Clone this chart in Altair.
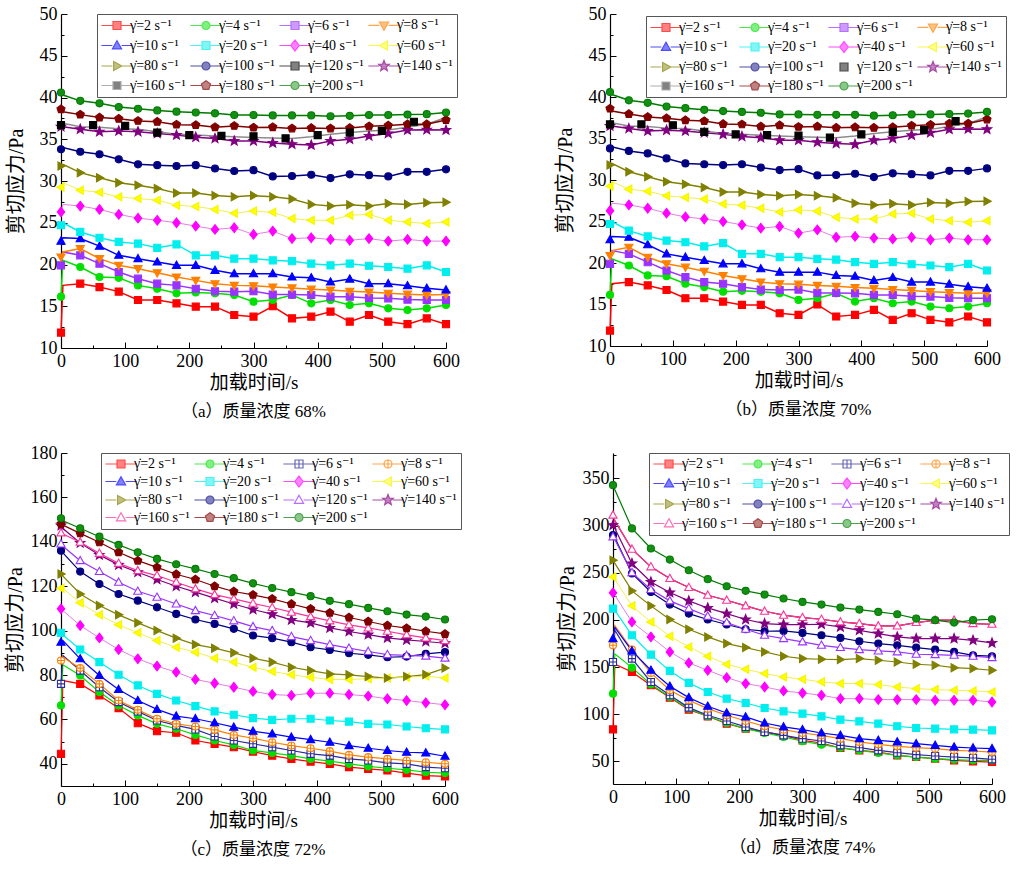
import math
import altair as alt
import pandas as pd

# ---------------- data ----------------
T = [0, 3] + list(range(30, 601, 30))          # time points of every series, s
T50 = list(range(0, 551, 50))                  # marker times of the 120 s^-1 series in (a),(b)
RATES = [2, 4, 6, 8, 10, 20, 40, 60, 80, 100, 120, 140, 160, 180, 200]
LABELS = [f"\u03b3\u0307={r} s\u207b\u00b9" for r in RATES]

# panel (a) 68 %  (panel (b) 70 % shows the same curves)
A2 = [11.85, 17.5, 17.7, 17.3, 16.75, 15.75, 15.75, 15.35, 14.95, 14.95, 13.95, 13.75, 15.0, 13.55, 13.75, 14.35, 13.15, 13.95, 13.15, 12.85, 13.55, 12.85]
A4 = [16.15, 20.5, 19.7, 18.5, 18.4, 17.5, 17.1, 16.55, 16.65, 16.55, 16.35, 15.55, 15.75, 16.35, 15.35, 15.75, 15.15, 15.35, 14.75, 14.55, 14.75, 15.15]
A6 = [19.9, 21.5, 21.1, 20.1, 19.1, 18.3, 17.7, 17.5, 17.1, 16.8, 16.75, 16.8, 16.4, 16.4, 16.35, 16.15, 16.15, 16.0, 15.95, 15.8, 15.75, 15.75]
A8 = [20.9, 21.5, 21.9, 20.7, 19.9, 19.5, 19.0, 18.5, 18.1, 17.7, 17.5, 17.45, 17.3, 17.2, 17.05, 16.95, 16.8, 16.7, 16.55, 16.45, 16.35, 16.4]
A10 = [22.8, 23.2, 23.1, 22.2, 21.1, 20.7, 20.3, 19.9, 19.9, 19.3, 18.9, 18.9, 18.9, 18.5, 18.4, 17.9, 18.25, 17.7, 17.7, 17.45, 17.15, 16.95]
A20 = [24.7, 25.0, 23.9, 23.2, 22.7, 22.5, 22.0, 22.4, 21.1, 21.1, 20.7, 20.7, 20.5, 20.4, 20.1, 19.9, 20.1, 19.85, 19.7, 19.5, 19.9, 19.1]
A40 = [26.3, 27.2, 27.0, 26.6, 26.0, 25.55, 25.3, 25.0, 24.6, 24.2, 24.4, 23.6, 24.0, 23.1, 23.2, 23.0, 22.9, 23.1, 22.8, 23.0, 22.8, 22.8]
A60 = [29.25, 29.8, 28.9, 28.65, 28.1, 27.9, 27.7, 27.1, 26.95, 26.6, 26.15, 26.4, 26.25, 25.5, 25.3, 25.3, 25.9, 26.0, 25.3, 25.1, 24.9, 25.1]
A80 = [31.8, 32.0, 31.0, 30.4, 29.8, 29.5, 29.1, 28.55, 28.55, 28.25, 28.1, 28.25, 28.1, 27.85, 27.2, 27.0, 27.15, 27.0, 27.3, 27.2, 27.4, 27.45]
A100 = [33.8, 34.0, 33.5, 33.2, 32.6, 32.0, 31.9, 31.8, 31.9, 31.5, 31.2, 31.3, 30.55, 30.6, 30.75, 30.35, 30.8, 30.7, 30.55, 31.1, 31.1, 31.4]
A120 = [36.7, 36.7, 36.6, 35.8, 35.5, 35.4, 35.35, 35.1, 35.5, 35.8, 36.0, 37.1]   # at T50, markers only
A140 = [36.5, 36.5, 36.2, 35.9, 36.0, 35.9, 35.7, 35.5, 35.25, 35.1, 34.8, 34.8, 34.55, 34.4, 34.3, 34.8, 35.0, 35.4, 35.7, 36.1, 36.15, 36.1]
A160 = [36.8, 36.9, 36.5, 36.45, 36.25, 36.2, 35.9, 35.6, 35.5, 35.4, 35.3, 35.2, 35.15, 35.1, 35.3, 35.6, 35.8, 36.0, 36.1, 36.45, 36.8, 37.6]
A180 = [38.6, 38.3, 37.95, 37.6, 37.45, 37.2, 37.1, 36.75, 36.7, 36.45, 36.6, 36.4, 36.45, 36.3, 36.35, 36.3, 36.35, 36.55, 36.65, 36.8, 36.8, 37.3]
A200 = [40.6, 40.3, 39.6, 39.3, 38.85, 38.65, 38.45, 38.3, 38.2, 38.1, 37.9, 37.9, 37.85, 37.85, 37.85, 37.75, 37.8, 37.9, 37.9, 37.95, 38.0, 38.2]

# panel (c) 72 %
C2 = [44.5, 77.5, 76.0, 70.8, 65.1, 58.3, 54.7, 54.0, 50.5, 49.0, 47.5, 45.5, 43.7, 42.2, 41.0, 40.0, 38.5, 37.7, 37.0, 35.8, 34.7, 34.3]
C4 = [66.3, 84.6, 79.8, 72.3, 66.3, 61.8, 58.0, 55.8, 53.0, 50.5, 48.5, 46.0, 44.9, 43.7, 42.2, 41.2, 40.0, 38.8, 38.0, 37.3, 36.2, 35.8]
C6 = [76.0, 88.8, 82.0, 74.5, 67.8, 63.6, 59.5, 57.3, 55.5, 52.3, 50.5, 49.0, 47.5, 46.0, 44.5, 43.7, 42.2, 41.5, 40.4, 40.0, 38.5, 38.0]
C8 = [86.5, 88.0, 83.1, 76.0, 68.5, 64.3, 60.3, 58.0, 56.8, 55.3, 53.0, 51.5, 49.7, 48.2, 47.0, 45.7, 44.0, 43.0, 42.2, 41.5, 40.7, 40.0]
C10 = [94.8, 95.5, 87.3, 79.8, 73.5, 68.5, 64.5, 61.5, 60.3, 58.5, 56.5, 54.7, 53.5, 52.0, 50.9, 49.7, 48.2, 47.0, 46.0, 45.2, 44.9, 43.4]
C20 = [99.0, 98.0, 91.5, 85.8, 80.1, 75.3, 71.5, 68.5, 66.0, 63.6, 62.1, 60.6, 59.8, 60.3, 60.3, 59.5, 59.0, 58.0, 57.7, 56.8, 56.0, 55.5]
C40 = [109.8, 109.0, 102.3, 96.7, 91.5, 87.3, 84.0, 81.3, 78.0, 76.3, 74.5, 72.6, 71.2, 70.8, 71.8, 71.8, 71.2, 70.5, 69.3, 68.5, 67.5, 66.6]
C60 = [119.1, 119.0, 112.5, 107.1, 102.6, 99.0, 95.5, 92.5, 90.3, 87.6, 85.8, 83.5, 81.6, 80.1, 79.0, 78.0, 78.0, 78.3, 78.6, 79.0, 79.5, 78.6]
C80 = [125.5, 124.5, 116.5, 111.3, 107.1, 103.5, 100.0, 96.6, 93.7, 92.1, 90.0, 87.6, 85.8, 83.5, 82.0, 80.5, 80.1, 79.3, 78.6, 79.3, 80.2, 83.1]
C100 = [136.0, 135.0, 126.6, 121.0, 116.5, 113.5, 110.5, 107.5, 105.0, 103.0, 100.8, 97.8, 96.6, 94.8, 92.5, 91.3, 89.8, 89.1, 88.0, 88.3, 89.5, 90.3]
C120 = [139.0, 138.0, 131.5, 126.6, 121.8, 117.7, 115.0, 112.0, 109.0, 106.8, 104.4, 101.8, 100.0, 97.3, 95.5, 93.7, 92.1, 90.6, 89.2, 88.8, 88.5, 87.6]
C140 = [147.3, 146.0, 139.5, 134.1, 129.6, 126.3, 123.0, 120.0, 117.3, 114.6, 112.0, 109.5, 107.4, 104.8, 103.5, 101.2, 99.6, 98.2, 96.7, 95.8, 95.1, 94.3]
C160 = [144.0, 143.5, 139.8, 134.8, 130.3, 127.0, 124.8, 121.8, 118.8, 116.2, 114.3, 112.3, 110.4, 108.3, 106.3, 104.4, 102.6, 101.2, 99.7, 98.1, 96.7, 95.5]
C180 = [148.0, 147.5, 143.8, 139.8, 135.3, 131.5, 128.5, 125.4, 123.0, 120.0, 117.6, 116.1, 114.3, 112.0, 109.8, 108.0, 105.9, 104.1, 102.3, 101.1, 99.7, 98.5]
C200 = [150.6, 149.5, 146.1, 142.3, 138.6, 135.3, 132.3, 129.9, 127.8, 125.5, 123.6, 121.3, 119.2, 117.3, 115.5, 113.4, 111.9, 110.2, 108.7, 107.2, 106.3, 105.0]

# panel (d) 74 %
D2 = [84.0, 153.0, 144.8, 130.7, 117.6, 104.9, 97.8, 90.0, 84.7, 81.2, 77.6, 72.3, 69.5, 64.2, 61.7, 59.9, 56.4, 54.6, 52.9, 51.1, 50.0, 49.3]
D4 = [121.8, 164.0, 149.4, 131.7, 118.3, 105.9, 97.8, 90.7, 84.7, 80.1, 75.9, 71.3, 67.7, 64.5, 61.7, 58.9, 56.4, 54.6, 52.9, 51.8, 51.1, 51.1]
D6 = [155.4, 189.0, 159.0, 134.2, 120.1, 107.0, 98.9, 92.8, 86.5, 81.2, 77.6, 74.1, 71.6, 67.0, 64.5, 61.7, 59.2, 57.1, 55.7, 54.6, 53.6, 52.2]
D8 = [173.1, 194.0, 168.5, 143.8, 125.4, 114.8, 105.9, 98.9, 92.8, 87.2, 83.6, 80.1, 77.6, 74.1, 70.6, 68.1, 66.0, 64.5, 63.5, 61.7, 61.0, 59.9]
D10 = [180.2, 192.0, 167.1, 146.6, 129.6, 117.6, 108.4, 101.3, 97.1, 90.7, 86.5, 83.6, 80.1, 77.6, 74.1, 72.3, 70.6, 68.8, 67.0, 65.2, 64.2, 63.5]
D20 = [212.0, 210.0, 183.7, 163.2, 145.9, 133.2, 123.6, 116.5, 111.9, 106.6, 103.1, 100.6, 97.8, 94.2, 92.5, 90.0, 87.2, 85.4, 84.7, 84.0, 83.6, 82.9]
D40 = [228.7, 226.0, 197.9, 182.0, 166.1, 154.4, 146.6, 138.8, 132.5, 128.9, 124.7, 122.5, 120.1, 116.5, 116.5, 115.5, 115.5, 115.5, 114.8, 114.8, 114.8, 113.0]
D60 = [245.6, 243.0, 214.9, 197.9, 182.7, 171.4, 161.5, 153.0, 147.7, 143.1, 139.5, 137.1, 134.3, 132.5, 132.5, 131.4, 128.9, 127.1, 126.1, 125.4, 124.7, 123.6]
D80 = [263.3, 260.0, 230.8, 214.9, 200.4, 190.1, 182.0, 174.9, 170.7, 166.1, 161.5, 159.0, 158.3, 157.9, 159.0, 157.2, 155.4, 153.0, 151.9, 149.4, 148.4, 146.6]
D100 = [289.9, 287.0, 249.2, 229.7, 216.3, 206.7, 200.4, 195.1, 190.1, 188.0, 188.3, 186.2, 183.7, 180.9, 177.4, 174.9, 173.1, 170.7, 168.5, 166.1, 162.5, 161.5]
D120 = [288.1, 285.0, 250.2, 232.2, 220.2, 212.0, 203.9, 197.2, 190.1, 183.7, 180.2, 176.7, 173.1, 170.7, 168.5, 167.1, 166.1, 163.6, 163.2, 162.5, 161.5, 160.0]
D140 = [300.5, 297.0, 259.8, 240.3, 229.0, 220.2, 212.7, 206.7, 200.4, 196.1, 195.1, 195.1, 195.4, 192.6, 189.0, 185.5, 182.0, 180.2, 180.2, 180.2, 178.4, 175.6]
D160 = [311.1, 305.0, 275.0, 256.3, 243.9, 234.3, 226.2, 220.9, 214.9, 209.2, 205.0, 202.5, 200.7, 197.9, 196.1, 193.6, 193.6, 197.2, 199.7, 199.7, 196.1, 195.4]
D180 = [311.1, 305.0, 275.0, 256.3, 243.9, 234.3, 226.2, 220.9, 214.9, 209.2, 205.0, 202.5, 200.7, 197.9, 196.1, 193.6, 193.6, 197.2, 199.7, 199.7, 196.1, 195.4]
D200 = [342.9, 338.0, 297.0, 275.7, 264.0, 252.7, 243.2, 235.7, 230.8, 226.9, 222.7, 219.1, 216.3, 213.1, 211.0, 208.5, 206.0, 201.4, 199.7, 197.2, 199.7, 200.7]

A_SERIES = [A2, A4, A6, A8, A10, A20, A40, A60, A80, A100, None, A140, A160, A180, A200]
C_SERIES = [C2, C4, C6, C8, C10, C20, C40, C60, C80, C100, C120, C140, C160, C180, C200]
D_SERIES = [D2, D4, D6, D8, D10, D20, D40, D60, D80, D100, D120, D140, D160, D180, D200]

# ---------------- styling ----------------
NUMFONT = "Liberation Serif"
LEGFONT = "Liberation Serif, DejaVu Serif"
FONT = "Liberation Serif, Noto Sans CJK SC"


def poly(points):
    return "M" + "L".join(f"{x:.3f},{y:.3f}" for x, y in points) + "Z"


SQ = "M-1,-1L1,-1L1,1L-1,1Z"
CI = "M-1,0A1 1 0 1 1 1,0A1 1 0 1 1 -1,0Z"
CROSS = "M0,-1L0,1M-1,0L1,0"
TU = "M0,-1.2L1.15,0.85L-1.15,0.85Z"
TD = "M0,1.2L1.15,-0.85L-1.15,-0.85Z"
TL = "M-1.2,0L0.85,-1.15L0.85,1.15Z"
TR = "M1.2,0L-0.85,-1.15L-0.85,1.15Z"
DI = "M0,-1.35L1.05,0L0,1.35L-1.05,0Z"
STAR = poly([((1.4 if i % 2 == 0 else 0.6) * math.cos(-math.pi / 2 + i * math.pi / 5),
              (1.4 if i % 2 == 0 else 0.6) * math.sin(-math.pi / 2 + i * math.pi / 5)) for i in range(10)])
PENT = poly([(1.2 * math.cos(-math.pi / 2 + i * 2 * math.pi / 5),
              1.2 * math.sin(-math.pi / 2 + i * 2 * math.pi / 5)) for i in range(5)])
STEM = "M-3.9,0L-1.15,0M1.15,0L3.9,0"

SHAPES_AB = [SQ, CI, SQ, TD, TU, SQ, DI, TL, TR, CI, SQ, STAR, SQ, PENT, CI]
SHAPES_CD = [SQ, CI, SQ + CROSS, CI + CROSS, TU, SQ, DI, TL, TR, CI, TU, STAR, TU, PENT, CI]

STROKE_AB = ["#ff0000", "#00e000", "#9933ff", "#ff8000", "#0000ff", "#00eeee", "#ff00ff", "#f5f500",
             "#808000", "#000080", "#000000", "#800080", "#8c8c8c", "#800000", "#007a00"]
FILL_AB = ["#ff0000", "#00e000", "#9933ff", "#ff8000", "#0000ff", "#00eeee", "#ff00ff", "#ffff00",
           "#808000", "#000080", "#000000", "#800080", "#000000", "#800000", "#139013"]
LINE_AB = ["#ff0000", "#00e000", "#9933ff", "#ff8000", "#0000ff", "#00eeee", "#e070e0", "#f0ec3c",
           "#808000", "#000080", "#000000", "#800080", "#8c8c8c", "#800000", "#007a00"]

STROKE_CD = ["#ff0000", "#00e000", "#2b2b9c", "#ff8000", "#0000ff", "#00eeee", "#ff00ff", "#f5f500",
             "#808000", "#000080", "#9933ff", "#800080", "#ff3399", "#800000", "#007a00"]
FILL_CD = ["#ff0000", "#00e000", "#ffffff", "#ffffff", "#0000ff", "#00eeee", "#ff00ff", "#ffff00",
           "#808000", "#000080", "#ffffff", "#800080", "#ffffff", "#800000", "#139013"]
LINE_CD = ["#ff0000", "#00e000", "#2b2b9c", "#ff8000", "#0000ff", "#00eeee", "#e070e0", "#f0ec3c",
           "#808000", "#000080", "#9933ff", "#800080", "#ff3399", "#800000", "#007a00"]

THIN = [LABELS[6], LABELS[7]]   # 40 and 60 s^-1 drawn with thin lines


def frames(series, extra120=None, no_marker=()):
    lines, pts = [], []
    for lab, vals in zip(LABELS, series):
        if vals is None:
            continue
        for i, (t, v) in enumerate(zip(T, vals)):
            lines.append({"t": t, "v": v, "series": lab})
            if i != 1 and lab not in no_marker:
                pts.append({"t": t, "v": v, "series": lab})
    if extra120 is not None:
        for t, v in zip(T50, extra120):
            pts.append({"t": t, "v": v, "series": LABELS[10]})
    return pd.DataFrame(lines), pd.DataFrame(pts)


def sc(rng, **kw):
    return alt.Scale(domain=LABELS, range=rng, **kw)


def panel(series, shapes, strokes, fills, linecols, ydom, ymajor, yminor, caption,
          w, h, legx, legy, lw, legend_paths, rowpad, extra120=None, no_marker=(), under=()):
    ldf, pdf = frames(series, extra120, no_marker)
    xs = alt.Scale(domain=[0, 600], nice=False, zero=False)
    ys = alt.Scale(domain=ydom, nice=False, zero=False)

    main_x = alt.Axis(orient="bottom", values=list(range(0, 601, 100)), ticks=False, domainColor="black",
                      domainWidth=1.2, labelFont=NUMFONT, labelFontSize=18, labelColor="black",
                      labelPadding=4, labelFlush=False, labelOverlap=False, grid=False,
                      title="加载时间/s", titleFont=FONT, titleFontSize=19, titleFontWeight="normal",
                      titleColor="black", titlePadding=3)
    main_y = alt.Axis(orient="left", values=ymajor, ticks=False, domainColor="black", domainWidth=1.2,
                      labelFont=NUMFONT, labelFontSize=18, labelColor="black", labelPadding=4,
                      labelFlush=False, labelOverlap=False, grid=False, minExtent=30,
                      title="剪切应力/Pa", titleFont=FONT, titleFontSize=20, titleFontWeight="normal",
                      titleColor="black", titlePadding=5)

    def tick_axis(orient, values, size):
        return alt.Axis(orient=orient, values=values, ticks=True, tickSize=size, tickColor="black",
                        tickWidth=1, offset=-size, domain=False, labels=False, grid=False, title=None)

    top_set = [l for l in LABELS if l not in THIN and l not in under]
    layers = []
    if under:
        layers.append(alt.Chart(ldf).transform_filter(
            alt.FieldOneOfPredicate(field="series", oneOf=list(under))
        ).mark_line(strokeWidth=lw).encode(
            x=alt.X("t:Q", scale=xs, axis=None),
            y=alt.Y("v:Q", scale=ys, axis=None),
            stroke=alt.Stroke("series:N", scale=sc(linecols), legend=None),
        ))
    layers.append(alt.Chart(ldf).transform_filter(
        alt.FieldOneOfPredicate(field="series", oneOf=top_set)
    ).mark_line(strokeWidth=lw).encode(
        x=alt.X("t:Q", scale=xs, axis=main_x),
        y=alt.Y("v:Q", scale=ys, axis=main_y),
        stroke=alt.Stroke("series:N", scale=sc(linecols), legend=None),
    ))
    layers.append(alt.Chart(ldf).transform_filter(
        alt.FieldOneOfPredicate(field="series", oneOf=THIN)
    ).mark_line(strokeWidth=0.9).encode(
        x=alt.X("t:Q", scale=xs, axis=None),
        y=alt.Y("v:Q", scale=ys, axis=None),
        stroke=alt.Stroke("series:N", scale=sc(linecols), legend=None),
    ))
    layers.append(alt.Chart(pdf).mark_point(filled=True, size=50, strokeWidth=1.1, opacity=1).encode(
        x=alt.X("t:Q", scale=xs, axis=tick_axis("bottom", list(range(0, 601, 100)), 6)),
        y=alt.Y("v:Q", scale=ys, axis=tick_axis("left", ymajor, 6)),
        stroke=alt.Stroke("series:N", scale=sc(strokes), legend=None),
        fill=alt.Fill("series:N", scale=sc(fills), legend=None),
        shape=alt.Shape("series:N", scale=sc(shapes), legend=None),
    ))
    leg = alt.Legend(title=None, orient="none", legendX=legx, legendY=legy, columns=4,
                     direction="horizontal", gridAlign="each",
                     symbolSize=64, symbolStrokeWidth=1.2, symbolOffset=9, labelOffset=6,
                     labelFont=LEGFONT, labelFontSize=14, labelColor="black", labelLimit=200,
                     rowPadding=rowpad, columnPadding=2, padding=4, fillColor="white",
                     strokeColor="#555555")
    layers.append(alt.Chart(pdf).transform_filter("false").mark_point(
        filled=True, size=50, strokeWidth=1.1
    ).encode(
        x=alt.X("t:Q", scale=xs, axis=tick_axis("bottom", list(range(50, 600, 100)), 3)),
        y=alt.Y("v:Q", scale=ys, axis=tick_axis("left", yminor, 3)),
        stroke=alt.Stroke("series:N", scale=sc(strokes), legend=leg),
        fill=alt.Fill("series:N", scale=sc(fills), legend=leg),
        shape=alt.Shape("series:N", scale=sc(legend_paths), legend=leg),
    ))
    return alt.layer(*layers).resolve_scale(
        stroke="independent", fill="independent", shape="independent"
    ).resolve_axis(x="independent", y="independent").properties(
        width=w, height=h,
        title=alt.TitleParams(text=caption, orient="bottom", anchor="middle", frame="group",
                              font=FONT, fontSize=17, fontWeight="normal", color="black", offset=12),
    )


LEG_AB_A = [s + STEM for s in SHAPES_AB]
LEG_AB_B = [s + (STEM if i != 10 else "") for i, s in enumerate(SHAPES_AB)]
LEG_CD = [s + STEM for s in SHAPES_CD]

pa = panel(A_SERIES, SHAPES_AB, STROKE_AB, FILL_AB, LINE_AB, [10, 50], list(range(10, 51, 5)),
           [x + 2.5 for x in range(10, 50, 5)], "（a）质量浓度 68%", 385, 334, 36, 0, 1.5, LEG_AB_A, 4.5,
           extra120=A120, no_marker=(LABELS[12],))
pb = panel(A_SERIES, SHAPES_AB, STROKE_AB, FILL_AB, LINE_AB, [10, 50], list(range(10, 51, 5)),
           [x + 2.5 for x in range(10, 50, 5)], "（b）质量浓度 70%", 377, 332, 36, 2, 1.5, LEG_AB_B, 4,
           extra120=A120, no_marker=(LABELS[12],))
pc = panel(C_SERIES, SHAPES_CD, STROKE_CD, FILL_CD, LINE_CD, [30, 180], list(range(40, 181, 20)),
           list(range(50, 180, 20)), "（c）质量浓度 72%", 384, 333, 40, 0, 1.2, LEG_CD, 2.5)
pd_ = panel(D_SERIES, SHAPES_CD, STROKE_CD, FILL_CD, LINE_CD, [26, 377], list(range(50, 351, 50)),
            list(range(75, 376, 50)), "（d）质量浓度 74%", 379, 331, 36, 0, 1.2, LEG_CD, 4.5,
            no_marker=(LABELS[13],), under=(LABELS[13],))

RES = dict(stroke="independent", fill="independent", shape="independent")
top = alt.hconcat(pa, pb, spacing=95).resolve_scale(**RES).resolve_legend(**RES)
bottom = alt.hconcat(pc, pd_, spacing=95).resolve_scale(**RES).resolve_legend(**RES)
chart = alt.vconcat(top, bottom, spacing=24).resolve_scale(**RES).resolve_legend(**RES).properties(
    padding={"left": 5, "top": 5, "right": 0, "bottom": 0}, background="white"
).configure_view(stroke=None)

chart.save("out.html", embed_options={"renderer": "svg", "actions": False})
